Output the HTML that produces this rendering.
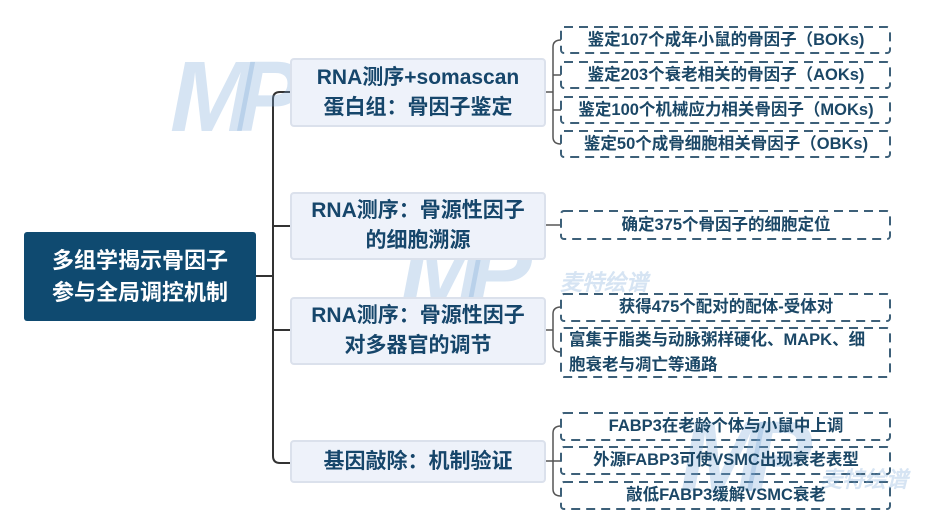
<!DOCTYPE html>
<html><head><meta charset="utf-8"><style>
body{margin:0;width:937px;height:532px;background:#fff;position:relative;overflow:hidden;font-family:"Liberation Sans","Noto Sans CJK SC",sans-serif;font-weight:bold}
.a{position:absolute;box-sizing:border-box;display:flex;align-items:center;justify-content:center;text-align:center}
.root{left:24px;top:232px;width:232px;height:89px;background:#0f4a70;color:#fff;font-size:22px;line-height:32px;border-radius:3px}
.l1{left:290px;width:256px;background:#eef2fa;border:2px solid #dbe1ec;color:#16466b;font-size:21px;line-height:30px;border-radius:4px}
.l2{left:561px;width:330px;color:#1b4766;font-size:16.5px;line-height:25px;white-space:nowrap}
.wm{position:absolute;color:rgba(120,165,215,0.3);font-style:italic;font-family:"Liberation Sans",sans-serif}
</style></head><body>
<svg width="937" height="532" style="position:absolute;left:0;top:0">
<g fill="none" stroke="#333" stroke-width="2">
<path d="M256 276 H273"/>
<path d="M290 92 H280 Q273 92 273 99 V456 Q273 463 280 463 H290"/>
<path d="M273 226 H290 M273 330 H290"/>
</g>
<g fill="none" stroke="#555" stroke-width="1.5">
<path d="M546 92 H553"/>
<path d="M561 40 Q553 40 553 47 V137 Q553 144 561 144"/>
<path d="M553 75 H561 M553 110 H561"/>
<path d="M546 225 H561"/>
<path d="M546 330 H553"/>
<path d="M561 307 Q553 307 553 314 V345 Q553 352 561 352"/>
<path d="M546 461 H553"/>
<path d="M561 426 Q553 426 553 433 V489 Q553 496 561 496"/>
<path d="M553 461 H561"/>
</g>
<g fill="none" stroke="#3d6079" stroke-width="2" stroke-dasharray="9,6">
<rect x="561" y="27" width="329" height="26" rx="3"/>
<rect x="561" y="62" width="329" height="26" rx="3"/>
<rect x="561" y="97" width="329" height="26" rx="3"/>
<rect x="561" y="131" width="329" height="26" rx="3"/>
<rect x="561" y="211" width="329" height="28" rx="3"/>
<rect x="561" y="294" width="329" height="27" rx="3"/>
<rect x="561" y="328" width="329" height="49" rx="3"/>
<rect x="561" y="413" width="329" height="27" rx="3"/>
<rect x="561" y="447" width="329" height="27" rx="3"/>
<rect x="561" y="482" width="329" height="27" rx="3"/>
</g>
</svg>
<div class="wm" style="left:170px;top:40px;font-size:100px;letter-spacing:-18px">MP</div>
<div class="wm" style="left:400px;top:215px;font-size:100px;letter-spacing:-18px">MP</div>
<div class="wm" style="left:560px;top:265px;font-size:22px">麦特绘谱</div>
<div class="wm" style="left:680px;top:400px;font-size:100px;letter-spacing:-18px">MP</div>
<div class="wm" style="left:820px;top:462px;font-size:22px">麦特绘谱</div>
<div class="a root">多组学揭示骨因子<br>参与全局调控机制</div>
<div class="a l1" style="top:58px;height:69px">RNA测序+somascan<br>蛋白组：骨因子鉴定</div>
<div class="a l1" style="top:192px;height:68px">RNA测序：骨源性因子<br>的细胞溯源</div>
<div class="a l1" style="top:297px;height:68px">RNA测序：骨源性因子<br>对多器官的调节</div>
<div class="a l1" style="top:440px;height:43px">基因敲除：机制验证</div>
<div class="a l2" style="top:27px;height:26px">鉴定107个成年小鼠的骨因子（BOKs)</div>
<div class="a l2" style="top:62px;height:26px">鉴定203个衰老相关的骨因子（AOKs)</div>
<div class="a l2" style="top:97px;height:26px">鉴定100个机械应力相关骨因子（MOKs)</div>
<div class="a l2" style="top:131px;height:26px">鉴定50个成骨细胞相关骨因子（OBKs)</div>
<div class="a l2" style="top:211px;height:28px">确定375个骨因子的细胞定位</div>
<div class="a l2" style="top:294px;height:27px">获得475个配对的配体-受体对</div>
<div class="a l2" style="top:328px;height:49px;justify-content:flex-start;text-align:left;padding-left:8px">富集于脂类与动脉粥样硬化、MAPK、细<br>胞衰老与凋亡等通路</div>
<div class="a l2" style="top:413px;height:27px">FABP3在老龄个体与小鼠中上调</div>
<div class="a l2" style="top:447px;height:27px">外源FABP3可使VSMC出现衰老表型</div>
<div class="a l2" style="top:482px;height:27px">敲低FABP3缓解VSMC衰老</div>
</body></html>
